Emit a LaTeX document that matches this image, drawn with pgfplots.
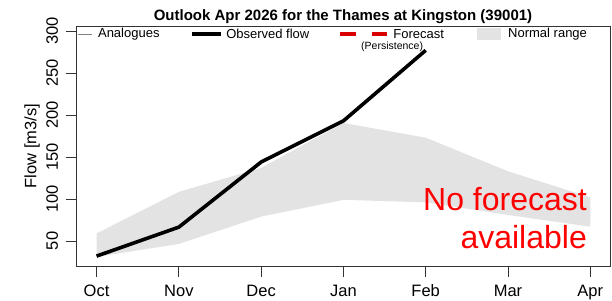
\documentclass[border=0pt]{standalone}
\usepackage{pgfplots}
\pgfplotsset{compat=1.18}
\usepackage{fontspec}
\setmainfont{Liberation Sans}
\definecolor{bandgray}{HTML}{E3E3E3}
\definecolor{axgray}{HTML}{333333}
\begin{document}
\begin{tikzpicture}[x=1pt,y=1pt]
\path[use as bounding box] (0,0) rectangle (612,300);
\begin{axis}[
  at={(76pt,34pt)}, anchor=south west,
  scale only axis, width=534pt, height=240pt,
  xmin=-0.25, xmax=6.24, ymin=20.2, ymax=306,
  xtick={0,1,2,3,4,5,6},
  xticklabels={Oct,Nov,Dec,Jan,Feb,Mar,Apr},
  ytick={50,100,150,200,250,300},
  tick align=outside, xtick pos=bottom, ytick pos=left,
  major tick length=10.5pt,
  axis line style={axgray, line width=0.9pt},
  every tick/.style={axgray, line width=0.9pt},
  tick label style={font=\fontsize{16.5}{19}\selectfont},
  /pgf/number format/assume math mode=true,
  xticklabel style={anchor=north, yshift=-5pt},
  yticklabel style={xshift=-4pt, rotate=90, anchor=south},
  clip=false,
]
% Normal range band
\addplot[fill=bandgray, draw=none] coordinates {
  (0,59) (1,108.5) (2,137) (3,190.5) (4,173) (5,133) (6,102)
  (6,67) (5,81) (4,96) (3,99) (2,79) (1,46.5) (0,31) } -- cycle;
% Observed flow
\addplot[black, line width=3.6pt, line join=round] coordinates {
  (0,32) (1,66.5) (2,144) (3,193) (4,277) };
% Legend
\draw[gray, line width=0.8pt] (rel axis cs:0.004,0.967) -- (rel axis cs:0.030,0.967);
\node[anchor=west, inner sep=0, font=\fontsize{13}{15}\selectfont] at (rel axis cs:0.041,0.967) {Analogues};
\draw[black, line width=3.6pt] (rel axis cs:0.217,0.967) -- (rel axis cs:0.272,0.967);
\node[anchor=west, inner sep=0, font=\fontsize{13}{15}\selectfont] at (rel axis cs:0.281,0.967) {Observed flow};
\draw[red!85!black, line width=3.6pt, dash pattern=on 16pt off 16pt] (rel axis cs:0.494,0.967) -- (rel axis cs:0.582,0.967);
\node[anchor=west, inner sep=0, font=\fontsize{13}{15}\selectfont] at (rel axis cs:0.594,0.967) {Forecast};
\fill[bandgray] (rel axis cs:0.751,0.942) rectangle (rel axis cs:0.796,0.992);
\node[anchor=west, inner sep=0, font=\fontsize{13}{15}\selectfont] at (rel axis cs:0.809,0.967) {Normal range};
\node[inner sep=0, font=\fontsize{10.5}{12}\selectfont] at (rel axis cs:0.592,0.9125) {(Persistence)};
% No forecast
\node[anchor=east, align=right, text=red, inner sep=0, font=\fontsize{32}{38}\selectfont] at (rel axis cs:0.957,0.2) {No forecast\\available};
% Title
\node[anchor=base, inner sep=0, font=\bfseries\fontsize{15}{18}\selectfont] at (rel axis cs:0.5,1) [yshift=5pt] {Outlook Apr 2026 for the Thames at Kingston (39001)};
% Y label
\node[rotate=90, inner sep=0, font=\fontsize{16.5}{19}\selectfont] at ([xshift=-44pt]rel axis cs:0,0.5) {Flow [m3/s]};
\end{axis}
\end{tikzpicture}
\end{document}
